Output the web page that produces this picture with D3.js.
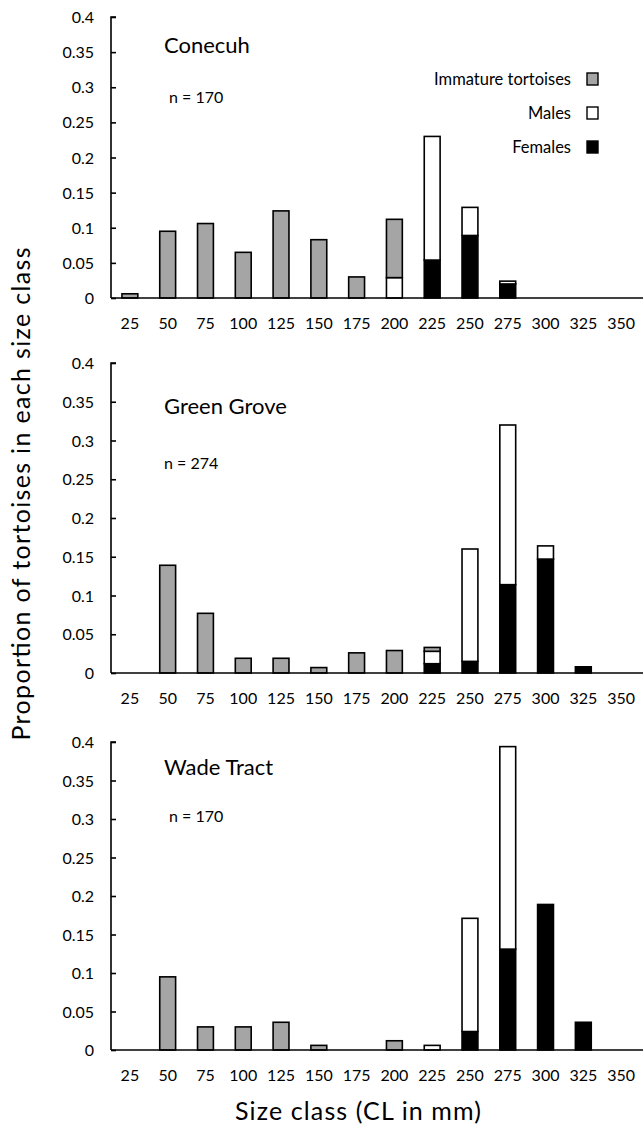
<!DOCTYPE html>
<html>
<head>
<meta charset="utf-8">
<script src="https://cdn.jsdelivr.net/npm/d3@7"></script>
<style>
  body { margin: 0; background: #fff; }
  text { font-family: Lato, "Noto Sans", sans-serif; fill: #000; }
</style>
</head>
<body>
<div id="main"></div>
<script>
var sizeClasses = [25, 50, 75, 100, 125, 150, 175, 200, 225, 250, 275, 300, 325, 350];
var yTicks = [0, 0.05, 0.1, 0.15, 0.2, 0.25, 0.3, 0.35, 0.4];

var siteNames = ["Conecuh", "Green Grove", "Wade Tract"];
var siteN = [170, 274, 170];

// proportions per size class, one value per size class
var conecuhFemales  = [0, 0, 0, 0, 0, 0, 0, 0, 0.054, 0.089, 0.020, 0, 0, 0];
var conecuhMales    = [0, 0, 0, 0, 0, 0, 0, 0.029, 0.176, 0.040, 0.004, 0, 0, 0];
var conecuhImmature = [0.006, 0.095, 0.106, 0.065, 0.124, 0.083, 0.030, 0.083, 0, 0, 0, 0, 0, 0];

var greenFemales  = [0, 0, 0, 0, 0, 0, 0, 0, 0.012, 0.015, 0.114, 0.147, 0.008, 0];
var greenMales    = [0, 0, 0, 0, 0, 0, 0, 0, 0.016, 0.145, 0.206, 0.017, 0, 0];
var greenImmature = [0, 0.139, 0.077, 0.019, 0.019, 0.007, 0.026, 0.029, 0.005, 0, 0, 0, 0, 0];

var wadeFemales  = [0, 0, 0, 0, 0, 0, 0, 0, 0, 0.024, 0.131, 0.189, 0.036, 0];
var wadeMales    = [0, 0, 0, 0, 0, 0, 0, 0, 0.006, 0.147, 0.263, 0, 0, 0];
var wadeImmature = [0, 0.095, 0.030, 0.030, 0.036, 0.006, 0, 0.012, 0, 0, 0, 0, 0, 0];

var groups = ["Females", "Males", "Immature tortoises"];
var groupFill = { "Females": "#000", "Males": "#fff", "Immature tortoises": "#a5a5a5" };

var siteData = [
  [conecuhFemales, conecuhMales, conecuhImmature],
  [greenFemales, greenMales, greenImmature],
  [wadeFemales, wadeMales, wadeImmature]
];

// vertical placement of each panel: [top of 0.4, baseline]
var panelY = [[17, 298], [363, 673], [742, 1050]];

var W = 643, H = 1133;
var axisX = 111;
var font = "Lato, 'Noto Sans', sans-serif";

var svg = d3.select("#main")
  .append("svg")
  .attr("width", W)
  .attr("height", H);

var x = d3.scaleBand()
  .domain(sizeClasses)
  .range([axisX, 640])
  .paddingInner(0.58)
  .paddingOuter(0.29);

var stack = d3.stack().keys(groups);

siteData.forEach(function(series, p) {
  var rows = sizeClasses.map(function(s, i) {
    return { size: s, "Females": series[0][i], "Males": series[1][i], "Immature tortoises": series[2][i] };
  });

  var y = d3.scaleLinear()
    .domain([0, 0.4])
    .range([panelY[p][1], panelY[p][0]]);

  var g = svg.append("g").attr("class", "panel");

  // bars
  g.selectAll(".layer")
    .data(stack(rows))
    .enter()
    .append("g")
    .attr("class", "layer")
    .style("fill", d => groupFill[d.key])
    .selectAll("rect")
    .data(d => d.filter(v => v[1] - v[0] > 0))
    .enter()
    .append("rect")
    .attr("x", d => x(d.data.size))
    .attr("width", x.bandwidth())
    .attr("y", d => y(d[1]))
    .attr("height", d => y(d[0]) - y(d[1]))
    .style("stroke", "#000")
    .style("stroke-width", 1.6);

  // y axis
  var yAxis = g.append("g")
    .attr("transform", "translate(" + axisX + ",0)")
    .call(d3.axisRight(y).tickValues(yTicks).tickSize(5).tickFormat(d3.format("~g")));
  yAxis.select(".domain").attr("d", "M5," + y(0.4) + "H0V" + y(0));
  yAxis.selectAll("path, line").style("stroke", "#000").style("stroke-width", 1.6);
  yAxis.selectAll("text")
    .attr("x", -17)
    .attr("dy", "0.35em")
    .style("text-anchor", "end")
    .style("font-size", "16px")
    .style("font-family", font);

  // x axis
  var xAxis = g.append("g")
    .attr("transform", "translate(0," + y(0) + ")")
    .call(d3.axisBottom(x).tickSize(0).tickPadding(20));
  xAxis.select(".domain").attr("d", "M" + axisX + ",0H" + W).style("stroke", "#000").style("stroke-width", 1.6);
  xAxis.selectAll("text")
    .style("font-size", "16px")
    .style("font-family", font);

  // panel labels
  g.append("text")
    .attr("x", 164)
    .attr("y", y(0.4) + [36, 51, 33][p])
    .style("font-size", "22px")
    .text(siteNames[p]);

  g.append("text")
    .attr("x", [169, 164, 169][p])
    .attr("y", y(0.4) + [86, 106, 80][p])
    .style("font-size", "16px")
    .text("n = " + siteN[p]);

  // legend on first panel
  if (p === 0) {
    var legendOrder = ["Immature tortoises", "Males", "Females"];
    var leg = g.selectAll(".legend")
      .data(legendOrder)
      .enter()
      .append("g")
      .attr("class", "legend")
      .attr("transform", (d, i) => "translate(0," + (79 + i * 34) + ")");
    leg.append("rect")
      .attr("x", 587)
      .attr("y", -6)
      .attr("width", 11)
      .attr("height", 12)
      .style("fill", d => groupFill[d])
      .style("stroke", "#000")
      .style("stroke-width", 1.4);
    leg.append("text")
      .attr("x", 571)
      .attr("dy", "0.35em")
      .style("text-anchor", "end")
      .style("font-size", "16.5px")
      .text(d => d);
  }
});

// axis titles
svg.append("text")
  .attr("transform", "translate(30,494) rotate(-90)")
  .style("text-anchor", "middle")
  .style("font-size", "25px")
  .attr("textLength", 493)
  .attr("lengthAdjust", "spacing")
  .text("Proportion of tortoises in each size class");

svg.append("text")
  .attr("x", 358)
  .attr("y", 1120)
  .style("text-anchor", "middle")
  .style("font-size", "25px")
  .attr("textLength", 246)
  .attr("lengthAdjust", "spacing")
  .text("Size class (CL in mm)");
</script>
</body>
</html>
